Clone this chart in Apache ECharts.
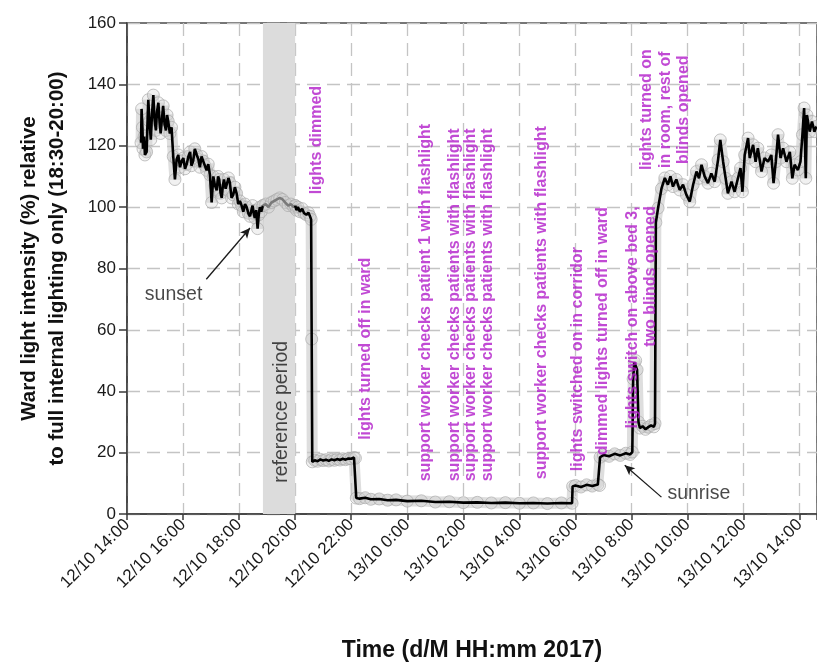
<!DOCTYPE html>
<html><head><meta charset="utf-8">
<script src="https://cdn.jsdelivr.net/npm/echarts@6/dist/echarts.min.js"></script>
<style>html,body{margin:0;padding:0;background:#fff}#c{width:817px;height:662px}</style>
</head><body><div id="c"></div>
<script>
// ---- data (hours since 12/10 00:00, relative intensity %) ----
const tickHours = [14,16,18,20,22,24,26,28,30,32,34,36,38];
const tickLabels = ['12/10 14:00','12/10 16:00','12/10 18:00','12/10 20:00','12/10 22:00','13/10 0:00','13/10 2:00','13/10 4:00','13/10 6:00','13/10 8:00','13/10 10:00','13/10 12:00','13/10 14:00'];
const yTicks = [0,20,40,60,80,100,120,140,160];
const referencePeriod = [18.85, 20.0];

const duskData = [
 [14.50,121],[14.52,132],[14.55,126],[14.57,119],[14.61,123],[14.64,117],[14.70,118],[14.73,127],[14.76,135],[14.80,128],
 [14.85,122],[14.89,130],[14.94,136.5],[14.98,129],[15.03,125],[15.07,131],[15.12,134],[15.16,128],[15.20,124],[15.25,129],
 [15.29,133],[15.34,127],[15.39,125],[15.43,130],[15.47,128],[15.53,124],[15.59,126],[15.65,116.5],[15.71,109],[15.77,115.5],
 [15.83,117],[15.89,113],[15.95,115],[16.01,116],[16.07,112.5],[16.13,114],[16.19,116.5],[16.25,118],[16.30,113.5],[16.36,115],
 [16.42,119],[16.49,117],[16.55,115.5],[16.60,113],[16.66,116.5],[16.72,115],[16.78,113.5],[16.84,112],[16.90,114],[16.96,110.5],
 [17.02,101.5],[17.08,110],[17.14,107],[17.20,105.5],[17.25,110],[17.29,109],[17.34,104.5],[17.38,103],[17.42,107],[17.46,109],
 [17.52,106],[17.58,105.5],[17.62,109.5],[17.67,108],[17.73,103],[17.79,104],[17.85,106.5],[17.91,104.5],[17.97,101],[18.03,102],
 [18.09,100.5],[18.15,98.5],[18.21,101],[18.27,100],[18.33,98],[18.39,97],[18.44,99],[18.48,100.5],[18.52,98],[18.56,96.5],
 [18.61,99],[18.66,93],[18.70,97.5],[18.74,100],[18.79,98.5],[18.85,100.5]
];
const refData = [
 [18.85,100.5],[18.95,101],[19.05,100],[19.15,101.5],[19.25,102],[19.35,102.5],[19.45,103],[19.55,102.5],[19.65,101.5],
 [19.75,100.5],[19.85,101],[19.95,100],[20.0,100.5]
];
const nightData = [
 [20.0,100.5],[20.05,99],[20.10,100],[20.17,98.5],[20.25,99.5],[20.32,98],[20.40,97.5],[20.47,98.2],[20.53,97],[20.57,96],
 [20.59,57],[20.61,17],[20.70,17.5],[20.80,17.2],[20.90,17.8],[21.00,17.4],[21.10,17.7],[21.20,17.3],[21.30,17.8],[21.40,17.5],
 [21.50,17.9],[21.60,17.6],[21.70,18],[21.80,17.7],[21.90,18.1],[22.00,18],[22.10,18.4],[22.15,18.2],[22.18,5.2],[22.30,5],
 [22.50,5.3],[22.70,4.8],[23.00,4.9],[23.30,4.5],[23.60,4.6],[24.00,4.2],[24.50,4.3],[25.00,3.9],[25.50,4],[26.00,3.7],
 [26.50,3.8],[27.00,3.6],[27.50,3.7],[28.00,3.5],[28.50,3.6],[29.00,3.4],[29.50,3.6],[29.88,3.5],[29.90,9],[30.00,9.3],
 [30.20,8.8],[30.40,9.5],[30.60,9.1],[30.80,9.6],[30.86,9.3],[30.88,18.5],[31.00,19.2],[31.20,18.8],[31.40,19.6],[31.60,19.1],
 [31.80,19.8],[31.95,19.4],[32.03,20.2],[32.06,44],[32.10,49.5],[32.15,50],[32.20,47],[32.25,30],[32.30,28],[32.40,28.6],
 [32.50,27.6],[32.60,28.3],[32.70,28.9],[32.80,28.4],[32.84,29.5],[32.87,95],[32.95,99.7],[33.07,106],[33.19,109.5],[33.30,107.3],
 [33.39,110],[33.48,106.7],[33.60,109],[33.72,105.6],[33.84,107.3],[33.96,104],[34.08,101.8],[34.20,107.3],[34.32,111.6],[34.41,109.4],
 [34.50,113.8],[34.61,110],[34.73,107.8],[34.85,111],[34.97,108.3],[35.09,115.4],[35.17,121.9],[35.27,114.8],[35.36,109.4],[35.44,104.5],
 [35.57,108.3],[35.68,105],[35.80,109.4],[35.89,112.7],[35.96,105],[36.04,117],[36.16,122.5],[36.22,116],[36.34,120.3],[36.43,114.8],
 [36.51,119.2],[36.64,111.6],[36.75,116],[36.87,114.8],[36.99,117],[37.07,107.8],[37.15,114.8],[37.23,123.6],[37.32,116],[37.41,119.2],
 [37.53,114.8],[37.65,118],[37.74,109.4],[37.82,113.8],[37.94,112.1],[38.03,114.8],[38.10,123.6],[38.16,132.3],[38.22,109.4],[38.26,130],
 [38.36,124.6],[38.44,127.9],[38.53,124.6],[38.60,126.3]
];

const annotationTexts = [
 'lights dimmed',
 'lights turned off in ward',
 'support worker checks patient 1 with flashlight',
 'support worker checks patients with flashlight\nsupport worker checks patients with flashlight\nsupport worker checks patients with flashlight',
 'support worker checks patients with flashlight',
 'lights switched on in corridor',
 'dimmed lights turned off in ward',
 'lights switch on above bed 3,\ntwo blinds opened',
 'lights turned on\nin room, rest of\nblinds opened'
];

// ---- chart ----
const chart = echarts.init(document.getElementById('c'), null, {renderer: 'canvas'});
const MAG = '#b21dc9';
const FONT = '"Liberation Sans", Arial, sans-serif';

function ann(i, x, y, align, lh) {
  return {
    value: [x, y],
    label: {
      show: true, formatter: annotationTexts[i], rotate: 90, position: [0, 0],
      align: align, verticalAlign: 'middle', color: MAG, fontWeight: 'bold',
      fontSize: 16, fontFamily: FONT, lineHeight: lh || 17
    }
  };
}
function note(text, x, y, align, rot) {
  return {value: [x, y], label: {show: true, formatter: text, rotate: rot || 0, position: [0, 0],
    align: align, verticalAlign: 'middle', color: '#1a1a1a', fontSize: 19.5, fontFamily: FONT}};
}

const haloAll = duskData.concat(refData, nightData);

chart.setOption({
  animation: false,
  backgroundColor: '#fff',
  grid: {left: 127, right: 0, top: 23, bottom: 148, outerBoundsMode: 'none', containLabel: false,
    show: true, borderColor: '#4a4a4a', borderWidth: 1.5, backgroundColor: 'transparent'},
  xAxis: {
    type: 'value', min: 14, max: 38.62, interval: 2,
    axisLine: {show: true, lineStyle: {color: '#3a3a3a', width: 1.5}},
    axisTick: {show: true, length: 6, lineStyle: {color: '#3a3a3a', width: 1.5}},
    splitLine: {show: true, lineStyle: {color: '#c4c4c4', width: 1.3, type: [13, 7]}},
    axisLabel: {
      rotate: 45, fontSize: 17, color: '#1a1a1a', fontFamily: FONT, margin: 8,
      showMaxLabel: true,
      formatter: function (v) { const i = tickHours.indexOf(Math.round(v)); return i >= 0 ? tickLabels[i] : ''; }
    },
    name: 'Time (d/M HH:mm 2017)', nameLocation: 'middle', nameGap: 125,
    nameTextStyle: {fontSize: 23, fontWeight: 'bold', color: '#111', fontFamily: FONT}
  },
  yAxis: {
    type: 'value', min: 0, max: 160, interval: 20,
    axisLine: {show: true, lineStyle: {color: '#3a3a3a', width: 1.5}},
    axisTick: {show: true, length: 8, lineStyle: {color: '#3a3a3a', width: 1.5}},
    splitLine: {show: true, lineStyle: {color: '#c4c4c4', width: 1.3, type: [13, 7]}},
    axisLabel: {fontSize: 17, color: '#1a1a1a', fontFamily: FONT, margin: 11,
      formatter: function (v) { return yTicks.indexOf(v) >= 0 ? String(v) : ''; }},
    name: 'Ward light intensity (%) relative\nto full internal lighting only (18:30-20:00)',
    nameLocation: 'middle', nameGap: 56,
    nameTextStyle: {fontSize: 20.5, fontWeight: 'bold', color: '#111', fontFamily: FONT, lineHeight: 28}
  },
  series: [
    {
      type: 'line', name: 'halo', data: haloAll, showSymbol: true, symbol: 'circle', symbolSize: 12,
      itemStyle: {color: 'rgba(215,215,215,0.35)', borderColor: 'rgba(170,170,170,0.7)', borderWidth: 1},
      lineStyle: {color: 'rgba(200,200,200,0.6)', width: 11}, silent: true, z: 2,
      markArea: {silent: true, itemStyle: {color: '#dcdcdc'},
        data: [[{xAxis: referencePeriod[0]}, {xAxis: referencePeriod[1]}]]}
    },
    {type: 'line', name: 'dusk', data: duskData, showSymbol: false, lineStyle: {color: '#000', width: 2.6}, silent: true, z: 3},
    {type: 'line', name: 'reference', data: refData, showSymbol: false, lineStyle: {color: '#7a7a7a', width: 2.6}, silent: true, z: 3},
    {type: 'line', name: 'night', data: nightData, showSymbol: false, lineStyle: {color: '#000', width: 2.6}, silent: true, z: 3},
    {
      type: 'scatter', name: 'notes', symbolSize: 1, itemStyle: {color: 'rgba(0,0,0,0)'}, silent: true, z: 6,
      data: [
        ann(0, 20.77, 104, 'left'),
        ann(1, 22.53, 24.0, 'left'),
        ann(2, 24.66, 10.5, 'left'),
        ann(3, 26.28, 10.5, 'left', 16.5),
        ann(4, 28.82, 11.2, 'left'),
        ann(5, 30.11, 13.8, 'left'),
        ann(6, 30.98, 19.0, 'left'),
        ann(7, 32.38, 100.1, 'right', 18),
        ann(8, 33.22, 131.6, 'center', 18.5),
        note('reference period', 19.52, 10.0, 'left', 90),
        note('sunset', 15.68, 71.3, 'center'),
        note('sunrise', 33.30, 6.4, 'left')
      ],
      markLine: {
        silent: true, symbol: ['none', 'arrow'], symbolSize: [7, 10],
        lineStyle: {color: '#1a1a1a', width: 1.3, type: 'solid'}, label: {show: false},
        data: [
          [{coord: [16.83, 76.5]}, {coord: [18.39, 93.2]}],
          [{coord: [33.07, 5.5]}, {coord: [31.76, 15.9]}]
        ]
      }
    }
  ]
});
</script></body></html>
